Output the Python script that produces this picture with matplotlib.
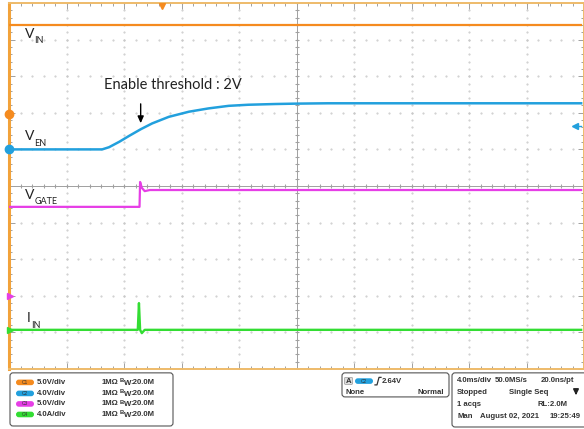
import numpy as np
import matplotlib
matplotlib.use('Agg')
import matplotlib.pyplot as plt
from matplotlib.patches import FancyBboxPatch

# ---- scope traces, in screen divisions (x: 0..10, y: 0..10) ----
vin_t = [0.0, 9.95]
vin_v = [9.40, 9.40]

ven_t = [0.0, 1.62, 1.74, 1.92, 2.09, 2.29, 2.49, 2.78, 3.13, 3.47, 3.82, 4.16, 4.63, 4.97, 5.54, 9.95]
ven_v = [6.00, 6.00, 6.06, 6.21, 6.37, 6.55, 6.71, 6.89, 7.03, 7.12, 7.19, 7.22, 7.24, 7.25, 7.26, 7.26]

gate_t = [0.0, 2.27, 2.28, 2.31, 2.36, 2.45, 9.95]
gate_v = [4.43, 4.43, 5.11, 4.95, 4.86, 4.89, 4.89]

iin_t = [0.0, 2.24, 2.26, 2.28, 2.31, 2.36, 9.95]
iin_v = [1.07, 1.07, 1.80, 1.07, 0.98, 1.07, 1.07]

# ground markers on the left edge
gnd_levels = [6.97, 6.00, 1.99, 1.07]

trig_time = 2.66      # trigger position marker (top)
trig_level = 6.64     # C2 trigger level arrow (right)

C_ORANGE = '#f58b1f'
C_BLUE = '#22a0dd'
C_MAGENTA = '#e63ee6'
C_GREEN = '#33dd33'
colors = [C_ORANGE, C_BLUE, C_MAGENTA, C_GREEN]

ch_scale = ['5.0V/div', '4.0V/div', '5.0V/div', '4.0A/div']

plt.rcParams['font.family'] = ['Lato', 'DejaVu Sans']

W, H = 584, 429
fig = plt.figure(figsize=(W / 100, H / 100), dpi=100)
fig.patch.set_facecolor('white')

left_px, top_px, bot_px = 9, 3, 369
ax = fig.add_axes([left_px / W, 1 - bot_px / H, (W - left_px) / W, (bot_px - top_px) / H])
ax.set_xlim(0, (W - left_px) / 57.9)
ax.set_ylim(0, 10)

# frame
for s in ['top', 'bottom', 'right']:
    ax.spines[s].set_color('#eebb6a')
    ax.spines[s].set_linewidth(1.4)
ax.spines['left'].set_color('#f2a23a')
ax.spines['left'].set_linewidth(2.2)

ax.set_xticks(np.arange(0, 10.01, 1))
ax.set_xticks(np.arange(0, 10.01, 0.2), minor=True)
ax.set_yticks(np.arange(0, 10.01, 1))
ax.set_yticks(np.arange(0, 10.01, 0.2), minor=True)
ax.tick_params(which='both', direction='in', color='#a0a0a0', top=True, right=True,
               labelbottom=False, labelleft=False, width=0.7)
ax.tick_params(which='major', length=4)
ax.tick_params(which='minor', length=2.5)

# dotted graticule
pts = np.arange(0, 10.01, 0.2)
for k in range(1, 10):
    ax.plot([k] * len(pts), pts, ls='', marker='.', ms=1.0, color='#c8c8c8', zorder=1)
    ax.plot(pts, [k] * len(pts), ls='', marker='.', ms=1.0, color='#c8c8c8', zorder=1)

# center crosshair with ticks
ax.axhline(5, color='#a0a0a0', lw=0.7, zorder=1)
ax.axvline(5, color='#a0a0a0', lw=0.7, zorder=1)
ax.plot(pts, [5] * len(pts), ls='', marker='|', ms=3.5, mew=0.7, color='#a0a0a0', zorder=1)
ax.plot([5] * len(pts), pts, ls='', marker='_', ms=3.5, mew=0.7, color='#a0a0a0', zorder=1)

# traces
ax.plot(vin_t, vin_v, color=C_ORANGE, lw=1.6, zorder=3)
ax.plot(ven_t, ven_v, color=C_BLUE, lw=1.8, zorder=3)
ax.plot(gate_t, gate_v, color=C_MAGENTA, lw=1.6, zorder=3)
ax.plot(iin_t, iin_v, color=C_GREEN, lw=1.7, zorder=3)

# ground markers
ax.plot([0], [gnd_levels[0]], 'o', ms=6, color=C_ORANGE, clip_on=False, zorder=5)
ax.plot([0], [gnd_levels[1]], 'o', ms=6, color=C_BLUE, clip_on=False, zorder=5)
ax.plot([0.02], [gnd_levels[2]], '>', ms=5, color=C_MAGENTA, clip_on=False, zorder=5)
ax.plot([0.02], [gnd_levels[3]], '>', ms=5, color=C_GREEN, clip_on=False, zorder=5)
ax.plot([trig_time], [9.93], 'v', ms=5, color=C_ORANGE, zorder=5)
ax.plot([9.84], [trig_level], '<', ms=4, color=C_BLUE, zorder=5)
ax.plot([9.84, 9.95], [trig_level, trig_level], color=C_BLUE, lw=1, zorder=5)

# labels
def sig_label(x, y, main, sub):
    t = ax.text(x, y, main, fontsize=10, color='#222222', va='baseline', ha='left')
    ax.annotate(sub, xy=(1, 0), xycoords=t, xytext=(0.3, -2.5), textcoords='offset points',
                fontsize=6.5, color='#222222', va='baseline', ha='left')

sig_label(0.27, 9.05, 'V', 'IN')
sig_label(0.27, 6.25, 'V', 'EN')
sig_label(0.27, 4.65, 'V', 'GATE')
sig_label(0.31, 1.28, 'I', 'IN')

ax.text(1.66, 7.76, 'Enable threshold : 2V', fontsize=10.5, color='#222222', va='center', ha='left')
ax.annotate('', xy=(2.29, 6.64), xytext=(2.29, 7.32),
            arrowprops=dict(arrowstyle='-|>,head_width=0.18,head_length=0.4', color='black', lw=1.0))

# ---- info panel ----
pan = fig.add_axes([0, 0, 1, 1 - bot_px / H - 0.002])
pan.set_xlim(0, W)
pan.set_ylim(H, bot_px + 1)
pan.axis('off')

def box(x0, y0, x1, y1):
    pan.add_patch(FancyBboxPatch((x0, y0), x1 - x0, y1 - y0,
                                 boxstyle='round,pad=0,rounding_size=3',
                                 fc='white', ec='#555555', lw=0.8))

TXT = dict(fontsize=5.6, fontweight='bold', color='#333333', va='center',
           family=['Liberation Sans', 'DejaVu Sans'])

def badge(x, y, label, col):
    pan.add_patch(FancyBboxPatch((x, y - 2.8), 18, 5.6, boxstyle='round,pad=0,rounding_size=2.8',
                                 fc=col, ec='none'))
    pan.text(x + 9, y, label, ha='center', fontsize=3.5, color='#333333', va='center',
             family=['Liberation Sans', 'DejaVu Sans'])

box(10, 373, 173, 426)
rows = [382.5, 393.5, 404, 414.5]
for i in range(4):
    badge(16, rows[i], 'C%d' % (i + 1), colors[i])
    pan.text(37, rows[i], ch_scale[i], **TXT)
    pan.text(102, rows[i], '1M\u03a9', **TXT)
    pan.text(120, rows[i] - 1.5, 'B', **dict(TXT, fontsize=4.2))
    pan.text(123.5, rows[i] + 0.8, 'W', **dict(TXT, fontsize=5.6))
    pan.text(130, rows[i], ':20.0M', **TXT)

box(342, 373, 449, 397)
pan.add_patch(FancyBboxPatch((344.5, 377.5), 8, 7, boxstyle='round,pad=0,rounding_size=1',
                             fc='#dddddd', ec='#999999', lw=0.5))
pan.text(348.5, 381.2, 'A', ha='center', **dict(TXT, va='center'))
badge(355, 381.2, 'C2', C_BLUE)
pan.plot([375, 377, 379, 381], [385, 385, 377.5, 377.5], color='#333333', lw=0.9)
pan.text(382, 381.2, '2.64V', **TXT)
pan.text(346, 392.5, 'None', **TXT)
pan.text(444, 392.5, 'Normal', ha='right', **TXT)

box(452, 373, 590, 427)
r = [381, 393, 405, 417]
pan.text(457, r[0], '4.0ms/div', **TXT)
pan.text(495, r[0], '50.0MS/s', **TXT)
pan.text(574, r[0], '20.0ns/pt', ha='right', **TXT)
pan.text(457, r[1], 'Stopped', **TXT)
pan.text(509, r[1], 'Single Seq', **TXT)
pan.annotate('', xy=(576, r[1] + 5), xytext=(576, r[1] - 4),
             arrowprops=dict(arrowstyle='-|>,head_width=0.15,head_length=0.3', color='#222222', lw=1.3))
pan.text(457, r[2], '1 acqs', **TXT)
pan.text(537, r[2], 'RL:2.0M', **TXT)
pan.text(457, r[3], 'Man', **TXT)
pan.text(480, r[3], 'August 02, 2021', **TXT)
pan.text(581, r[3], '19:25:49', ha='right', **TXT)

fig.savefig('out.png', dpi=100, facecolor='white')
